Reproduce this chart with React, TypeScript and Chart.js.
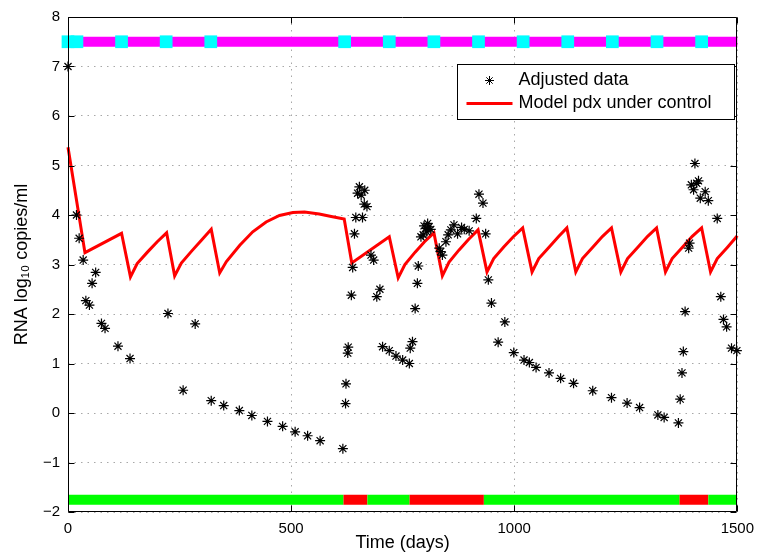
import React, { useEffect, useRef } from 'react';
import { Chart, registerables } from 'chart.js';

Chart.register(...registerables);

const FONT = "'Liberation Sans', Arial, Helvetica, sans-serif";

// Adjusted data (time in days, log10 copies/ml)
const dataDays = [
  0, 19, 25, 34, 40, 48, 54, 62, 75, 83, 112, 139, 224, 258, 285, 321, 349, 384, 412, 447,
  481, 509, 537, 565, 616, 622, 623, 627, 628, 635, 638, 642, 645, 649, 653, 657, 660, 664,
  665, 670, 679, 685, 692, 699, 705, 720, 735, 750, 765, 767, 772, 778, 783, 785, 791, 796,
  798, 802, 804, 806, 809, 813, 832, 835, 839, 847, 852, 858, 865, 873, 882, 888, 899, 915,
  921, 930, 936, 942, 949, 964, 979, 999, 1022, 1034, 1049, 1078, 1104, 1133, 1176, 1218,
  1253, 1281, 1322, 1336, 1368, 1372, 1376, 1379, 1383, 1391, 1393, 1397, 1402, 1405, 1409,
  1413, 1417, 1428, 1435, 1455, 1463, 1469, 1476, 1487, 1499,
];
const dataLog = [
  7.0, 4.0, 3.53, 3.09, 2.27, 2.18, 2.62, 2.84, 1.81, 1.71, 1.35, 1.1, 2.01, 0.46, 1.8, 0.25,
  0.15, 0.05, -0.05, -0.17, -0.27, -0.38, -0.46, -0.56, -0.72, 0.19, 0.59, 1.21, 1.33, 2.38,
  2.94, 3.62, 3.95, 4.44, 4.57, 4.4, 3.95, 4.22, 4.5, 4.17, 3.19, 3.09, 2.35, 2.5, 1.34, 1.26,
  1.15, 1.07, 1.0, 1.31, 1.44, 2.11, 2.62, 2.97, 3.56, 3.6, 3.78, 3.73, 3.66, 3.83, 3.76,
  3.71, 3.33, 3.26, 3.19, 3.46, 3.6, 3.7, 3.8, 3.62, 3.75, 3.71, 3.68, 3.93, 4.42, 4.24,
  3.62, 2.69, 2.22, 1.43, 1.84, 1.22, 1.07, 1.02, 0.92, 0.81, 0.7, 0.6, 0.45, 0.31, 0.2,
  0.11, -0.04, -0.09, -0.2, 0.28, 0.81, 1.24, 2.05, 3.33, 3.43, 4.61, 4.51, 5.04, 4.64, 4.69,
  4.34, 4.47, 4.29, 3.93, 2.35, 1.89, 1.74, 1.31, 1.26,
];

// Model pdx under control
const modelDays = [
  0, 38, 120, 140, 155, 178, 200, 221, 239, 254, 277, 299, 321, 340, 355, 385, 414, 444, 474,
  504, 530, 563, 590, 619, 636, 720, 740, 755, 778, 799, 820, 839, 854, 876, 898, 919, 939,
  954, 977, 998, 1019, 1040, 1055, 1078, 1100, 1118, 1138, 1153, 1176, 1198, 1218, 1239,
  1254, 1277, 1299, 1319, 1339, 1354, 1377, 1399, 1420, 1440, 1455, 1478, 1500,
];
const modelLog = [
  5.37, 3.24, 3.63, 2.75, 3.02, 3.25, 3.46, 3.64, 2.77, 3.03, 3.27, 3.49, 3.71, 2.83, 3.06,
  3.39, 3.66, 3.86, 3.99, 4.05, 4.06, 4.02, 3.97, 3.92, 3.03, 3.56, 2.73, 3.0, 3.25, 3.46,
  3.64, 2.77, 3.05, 3.29, 3.51, 3.7, 2.85, 3.12, 3.36, 3.56, 3.74, 2.85, 3.12, 3.35, 3.57,
  3.74, 2.85, 3.12, 3.35, 3.57, 3.74, 2.85, 3.12, 3.35, 3.57, 3.74, 2.85, 3.12, 3.35, 3.57,
  3.74, 2.85, 3.12, 3.35, 3.58,
];

// Treatment indicator (top bar)
const doseDays = [0, 20, 120, 220, 320, 620, 720, 820, 920, 1020, 1120, 1220, 1320, 1420];
const doseLevel = 7.5;

// Control indicator (bottom bar)
const onPeriods = [[0, 617], [671, 765], [932, 1370], [1435, 1500]];
const offPeriods = [[617, 671], [765, 932], [1370, 1435]];
const controlLevel = -1.75;

const xTicks = [0, 500, 1000, 1500];
const yTicks = [-2, -1, 0, 1, 2, 3, 4, 5, 6, 7, 8];

const legendLabels = ['Adjusted data', 'Model pdx under control'];

function periodData(periods: number[][], level: number) {
  const out: { x: number; y: number | null }[] = [];
  for (const [a, b] of periods) {
    out.push({ x: a, y: level }, { x: b, y: level }, { x: b, y: null });
  }
  return out;
}

function drawStar(ctx: CanvasRenderingContext2D, x: number, y: number, r: number) {
  ctx.beginPath();
  for (let k = 0; k < 4; k++) {
    const ang = (k * Math.PI) / 4;
    const dx = Math.cos(ang) * r;
    const dy = Math.sin(ang) * r;
    ctx.moveTo(x - dx, y - dy);
    ctx.lineTo(x + dx, y + dy);
  }
  ctx.stroke();
}

const framePlugin = {
  id: 'frame',
  afterDatasetsDraw(chart: any) {
    const { ctx, chartArea: a, scales } = chart;
    const sx = scales.x;
    const sy = scales.y;
    ctx.save();
    ctx.strokeStyle = '#000';
    ctx.lineWidth = 1;
    ctx.setLineDash([]);
    const L = Math.round(a.left) + 0.5;
    const R = Math.round(a.right) - 0.5;
    const T = Math.round(a.top) + 0.5;
    const B = Math.round(a.bottom) - 0.5;
    ctx.beginPath();
    ctx.rect(L, T, R - L, B - T);
    const tl = 6;
    for (const t of xTicks) {
      const px = Math.round(sx.getPixelForValue(t)) + 0.5;
      ctx.moveTo(px, B);
      ctx.lineTo(px, B - tl);
      ctx.moveTo(px, T);
      ctx.lineTo(px, T + tl);
    }
    for (const t of yTicks) {
      const py = Math.round(sy.getPixelForValue(t)) + 0.5;
      ctx.moveTo(L, py);
      ctx.lineTo(L + tl, py);
      ctx.moveTo(R, py);
      ctx.lineTo(R - tl, py);
    }
    ctx.stroke();
    ctx.restore();
  },
  afterDraw(chart: any) {
    const { ctx, chartArea: a } = chart;
    const w = 277;
    const h = 55;
    const left = Math.round(a.right - 3 - w) + 0.5;
    const top = Math.round(a.top + 47) + 0.5;
    ctx.save();
    ctx.fillStyle = '#fff';
    ctx.fillRect(left, top, w, h);
    ctx.strokeStyle = '#000';
    ctx.lineWidth = 1;
    ctx.setLineDash([]);
    ctx.strokeRect(left, top, w, h);
    const row1 = top + 16;
    const row2 = top + 39;
    ctx.strokeStyle = '#000';
    ctx.lineWidth = 1;
    drawStar(ctx, left + 32, row1, 4.5);
    ctx.strokeStyle = '#ff0000';
    ctx.lineWidth = 3;
    ctx.beginPath();
    ctx.moveTo(left + 9, row2);
    ctx.lineTo(left + 55, row2);
    ctx.stroke();
    ctx.fillStyle = '#000';
    ctx.font = `18px ${FONT}`;
    ctx.textBaseline = 'middle';
    ctx.textAlign = 'left';
    ctx.fillText(legendLabels[0], left + 61, row1);
    ctx.fillText(legendLabels[1], left + 61, row2);
    ctx.restore();
  },
};

export default function App() {
  const ref = useRef<HTMLCanvasElement | null>(null);

  useEffect(() => {
    if (!ref.current) return;
    const scatterPts = dataDays.map((d, i) => ({ x: d, y: dataLog[i] }));
    const modelPts = modelDays.map((d, i) => ({ x: d, y: modelLog[i] }));
    const dosePts = doseDays.map((d) => ({ x: d, y: doseLevel }));

    const chart = new Chart(ref.current, {
      type: 'scatter',
      data: {
        datasets: [
          {
            label: 'dose',
            data: dosePts,
            showLine: false,
            pointStyle: 'rect',
            pointRadius: 9,
            pointBackgroundColor: '#00ffff',
            pointBorderColor: '#00ffff',
            pointBorderWidth: 0,
            clip: false,
          } as any,
          {
            label: 'treatment',
            data: [{ x: 0, y: doseLevel }, { x: 1500, y: doseLevel }],
            showLine: true,
            borderColor: '#ff00ff',
            borderWidth: 10,
            pointRadius: 0,
            borderCapStyle: 'butt',
            clip: false,
          },
          {
            label: legendLabels[0],
            data: scatterPts,
            showLine: false,
            pointStyle: 'star',
            pointRadius: 5,
            pointBorderColor: '#000',
            pointBackgroundColor: '#000',
            pointBorderWidth: 1.2,
            clip: false,
          },
          {
            label: legendLabels[1],
            data: modelPts,
            showLine: true,
            borderColor: '#ff0000',
            borderWidth: 3,
            pointRadius: 0,
            tension: 0,
            clip: false,
          },
          {
            label: 'on',
            data: periodData(onPeriods, controlLevel) as any,
            showLine: true,
            borderColor: '#00ff00',
            borderWidth: 10,
            pointRadius: 0,
            spanGaps: false,
            borderCapStyle: 'butt',
          },
          {
            label: 'off',
            data: periodData(offPeriods, controlLevel) as any,
            showLine: true,
            borderColor: '#ff0000',
            borderWidth: 10,
            pointRadius: 0,
            spanGaps: false,
            borderCapStyle: 'butt',
          },
        ],
      },
      options: {
        responsive: false,
        animation: false,
        events: [],
        layout: { padding: { left: 0, right: 23, top: 17, bottom: 0 } },
        plugins: {
          legend: { display: false },
          tooltip: { enabled: false },
        },
        scales: {
          x: {
            type: 'linear',
            min: 0,
            max: 1500,
            afterBuildTicks: (s: any) => {
              s.ticks = xTicks.map((v) => ({ value: v }));
            },
            afterFit: (s: any) => {
              s.height = 43;
            },
            ticks: {
              color: '#000',
              font: { family: FONT, size: 15 },
              padding: 8,
              maxRotation: 0,
              callback: (v: any) => String(v),
            },
            grid: { color: '#a8a8a8', lineWidth: 1, drawTicks: false },
            border: { display: false, dash: [1.5, 5] },
            title: {
              display: true,
              text: 'Time (days)',
              color: '#000',
              font: { family: FONT, size: 18 },
              padding: { top: 0, bottom: 1 },
            },
          },
          y: {
            type: 'linear',
            min: -2,
            max: 8,
            afterBuildTicks: (s: any) => {
              s.ticks = yTicks.map((v) => ({ value: v }));
            },
            afterFit: (s: any) => {
              s.width = 68;
            },
            ticks: {
              color: '#000',
              font: { family: FONT, size: 15 },
              padding: 8,
              callback: (v: any) => String(v).replace('-', '\u2212'),
            },
            grid: { color: '#a8a8a8', lineWidth: 1, drawTicks: false },
            border: { display: false, dash: [1.5, 5] },
            title: {
              display: true,
              text: 'RNA log\u2081\u2080 copies/ml',
              color: '#000',
              font: { family: FONT, size: 18 },
              padding: { top: 11, bottom: 0 },
            },
          },
        },
      },
      plugins: [framePlugin],
    });
    return () => chart.destroy();
  }, []);

  return (
    <div style={{ position: 'absolute', left: 0, top: 0, width: 762, height: 555, background: '#fff' }}>
      <canvas ref={ref} width={762} height={555} style={{ display: 'block' }} />
    </div>
  );
}
